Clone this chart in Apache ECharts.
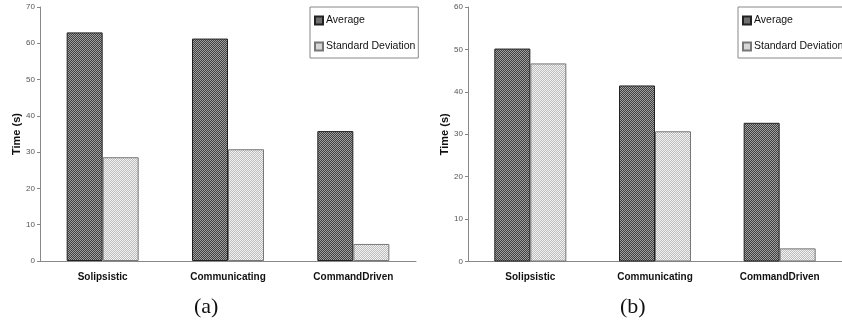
<!DOCTYPE html>
<html><head><meta charset="utf-8">
<script src="https://cdn.jsdelivr.net/npm/echarts@6/dist/echarts.min.js"></script>
<style>html,body{margin:0;padding:0;background:#fff}#c{width:842px;height:322px}</style>
</head><body><div id="c"></div>
<script>
const categories = ['Solipsistic', 'Communicating', 'CommandDriven'];
const avgA = [63.0, 61.3, 35.8];
const sdA = [28.6, 30.8, 4.7];
const avgB = [50.2, 41.5, 32.7];
const sdB = [46.7, 30.7, 3.1];
const seriesNames = ['Average', 'Standard Deviation'];
const yTitle = 'Time (s)';
const captions = ['(a)', '(b)'];

function pattern(c1, c2) {
  const cv = document.createElement('canvas');
  cv.width = 2; cv.height = 2;
  const ctx = cv.getContext('2d');
  ctx.fillStyle = c1; ctx.fillRect(0,0,2,2);
  ctx.fillStyle = c2; ctx.fillRect(0,0,1,1); ctx.fillRect(1,1,1,1);
  return {image: cv, repeat: 'repeat'};
}
const avgFill = pattern('#404040', '#a0a0a0');
const sdFill = pattern('#bdbdbd', '#f2f2f2');

const chart = echarts.init(document.getElementById('c'), null, {renderer: 'canvas'});
const grids = [
  {left: 40, top: 7, width: 376, height: 254},
  {left: 468, top: 7, width: 374, height: 254.5}
];
function xAx(i) {
  return {type: 'category', gridIndex: i, data: categories,
    axisLine: {lineStyle: {color: '#888'}},
    axisTick: {length: 4, lineStyle: {color: '#888'}},
    axisLabel: {fontFamily: 'Arial, Liberation Sans', fontWeight: 'bold', fontSize: 10, color: '#111', margin: 11}};
}
function yAx(i, max) {
  return {type: 'value', gridIndex: i, min: 0, max: max, interval: 10,
    name: yTitle, nameLocation: 'middle', nameGap: 17,
    nameTextStyle: {fontFamily: 'Arial, Liberation Sans', fontWeight: 'bold', fontSize: 11, color: '#111'},
    axisLine: {show: true, lineStyle: {color: '#888'}},
    axisTick: {show: true, length: 3, lineStyle: {color: '#888'}},
    splitLine: {show: false},
    axisLabel: {fontFamily: 'Arial, Liberation Sans', fontSize: 8, color: '#555', margin: 5}};
}
function bar(name, data, i, fill, border) {
  return {type: 'bar', name: name, xAxisIndex: i, yAxisIndex: i, data: data,
    barWidth: 36, barGap: '0%',
    itemStyle: {color: fill, borderColor: border, borderWidth: 1}};
}
function legend(left, width) {
  return {orient: 'vertical', left: left, top: 7, width: width,
    data: seriesNames, icon: 'rect', itemWidth: 8, itemHeight: 8, itemGap: 15,
    padding: [8, 3, 6, 4], borderColor: '#888', borderWidth: 1,
    textStyle: {fontFamily: 'Arial, Liberation Sans', fontSize: 10.5, color: '#111', padding: [0,0,0,-2]},
    selectedMode: false};
}
chart.setOption({
  animation: false,
  grid: grids,
  xAxis: [xAx(0), xAx(1)],
  yAxis: [yAx(0, 70), yAx(1, 60)],
  legend: [legend(310, 100), legend(738, 100)],
  series: [
    bar(seriesNames[0], avgA, 0, avgFill, '#222'),
    bar(seriesNames[1], sdA, 0, sdFill, '#777'),
    bar(seriesNames[0], avgB, 1, avgFill, '#222'),
    bar(seriesNames[1], sdB, 1, sdFill, '#777')
  ],
  graphic: [
    {type: 'text', left: 194, top: 296, style: {text: captions[0], font: '22px "Liberation Serif", "DejaVu Serif", serif', fill: '#111'}},
    {type: 'text', left: 620, top: 296, style: {text: captions[1], font: '22px "Liberation Serif", "DejaVu Serif", serif', fill: '#111'}}
  ]
});
</script></body></html>
